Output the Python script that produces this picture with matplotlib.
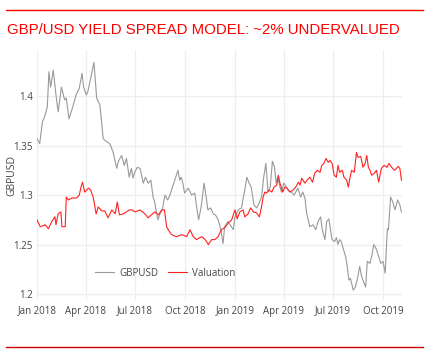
import matplotlib
matplotlib.use("Agg")
import matplotlib.pyplot as plt
from matplotlib.lines import Line2D
import pandas as pd

title = "GBP/USD YIELD SPREAD MODEL: ~2% UNDERVALUED"
start_date = "2018-01-01"

# days since start_date, GBPUSD spot
gbp_days = [0, 5, 10, 14, 19, 22, 25, 30, 35, 39, 45, 51, 54, 59, 67, 72, 78, 83, 86, 91, 94, 99,
            105, 110, 116, 122, 128, 134, 140, 147, 150, 156, 161, 165, 170, 174, 177, 180, 185, 190,
            196, 200, 205, 210, 214, 217, 220, 223, 226, 231, 236, 241, 245, 251, 255, 260, 263, 266,
            269, 272, 279, 285, 291, 294, 298, 303, 308, 312, 315, 320, 325, 329, 334, 339, 343, 346,
            352, 356, 362, 365, 371, 377, 383, 387, 391, 395, 400, 405, 408, 414, 418, 422, 426, 430,
            434, 438, 441, 444, 448, 451, 455, 460, 463, 469, 474, 477, 481, 486, 490, 494, 497, 503,
            509, 514, 518, 523, 526, 531, 534, 538, 544, 549, 552, 555, 558, 561, 564, 569, 572, 575,
            578, 583, 587, 591, 595, 598, 601, 606, 609, 614, 617, 621, 626, 630, 634, 638, 642, 646,
            648, 652, 656, 660, 665, 669, 672]
gbp_vals = [1.357, 1.352, 1.374, 1.379, 1.389, 1.4245, 1.409, 1.426, 1.401, 1.384, 1.409, 1.396, 1.398,
            1.377, 1.391, 1.401, 1.408, 1.423, 1.409, 1.401, 1.405, 1.418, 1.434, 1.398, 1.391, 1.357,
            1.354, 1.352, 1.344, 1.327, 1.334, 1.340, 1.330, 1.337, 1.318, 1.327, 1.317, 1.323, 1.328,
            1.327, 1.312, 1.318, 1.312, 1.315, 1.298, 1.293, 1.283, 1.275, 1.280, 1.285, 1.300, 1.295,
            1.300, 1.310, 1.317, 1.325, 1.315, 1.318, 1.312, 1.302, 1.307, 1.300, 1.302, 1.289, 1.275,
            1.289, 1.312, 1.298, 1.285, 1.287, 1.281, 1.280, 1.275, 1.265, 1.251, 1.268, 1.273, 1.270,
            1.265, 1.278, 1.285, 1.287, 1.305, 1.318, 1.312, 1.308, 1.290, 1.287, 1.290, 1.298, 1.318,
            1.332, 1.303, 1.308, 1.334, 1.328, 1.312, 1.318, 1.308, 1.303, 1.312, 1.308, 1.305, 1.303,
            1.300, 1.303, 1.307, 1.298, 1.303, 1.297, 1.282, 1.268, 1.270, 1.265, 1.273, 1.278, 1.265,
            1.255, 1.273, 1.276, 1.255, 1.253, 1.257, 1.250, 1.255, 1.253, 1.247, 1.238, 1.228, 1.214,
            1.216, 1.204, 1.207, 1.216, 1.228, 1.219, 1.214, 1.207, 1.233, 1.231, 1.238, 1.250, 1.245,
            1.238, 1.231, 1.233, 1.221, 1.266, 1.265, 1.298, 1.293, 1.285, 1.295, 1.290, 1.283]

# days since start_date, valuation model
val_days = [0, 6, 15, 21, 27, 33, 35, 39, 44, 46, 52, 54, 58, 64, 73, 78, 81, 84, 88, 95, 99, 104,
            109, 113, 119, 125, 131, 138, 144, 148, 152, 159, 165, 170, 175, 181, 190, 199, 205, 211,
            217, 224, 230, 235, 239, 242, 248, 257, 267, 276, 282, 288, 294, 304, 310, 316, 322, 328,
            334, 340, 346, 353, 359, 362, 365, 369, 374, 380, 383, 389, 394, 399, 405, 410, 414, 417,
            420, 423, 428, 433, 437, 442, 445, 448, 453, 457, 461, 466, 472, 477, 482, 485, 488, 494,
            498, 503, 508, 512, 517, 522, 525, 529, 533, 537, 540, 544, 548, 552, 555, 558, 563, 566,
            571, 574, 577, 580, 585, 589, 592, 597, 601, 605, 608, 611, 614, 617, 622, 626, 630, 635,
            640, 645, 649, 654, 659, 663, 666, 669, 672]
val_vals = [1.275, 1.268, 1.270, 1.266, 1.273, 1.278, 1.270, 1.281, 1.283, 1.268, 1.268, 1.298, 1.295,
            1.297, 1.297, 1.300, 1.308, 1.313, 1.303, 1.307, 1.305, 1.297, 1.281, 1.288, 1.284, 1.284,
            1.277, 1.285, 1.281, 1.293, 1.280, 1.281, 1.283, 1.285, 1.285, 1.283, 1.285, 1.281, 1.277,
            1.280, 1.283, 1.280, 1.285, 1.285, 1.268, 1.265, 1.260, 1.258, 1.260, 1.258, 1.265, 1.258,
            1.255, 1.258, 1.255, 1.250, 1.255, 1.255, 1.258, 1.265, 1.267, 1.272, 1.275, 1.280, 1.285,
            1.276, 1.283, 1.285, 1.278, 1.281, 1.287, 1.283, 1.282, 1.278, 1.288, 1.298, 1.303, 1.302,
            1.305, 1.303, 1.308, 1.310, 1.320, 1.312, 1.303, 1.308, 1.307, 1.303, 1.305, 1.308, 1.313,
            1.310, 1.317, 1.312, 1.315, 1.318, 1.313, 1.322, 1.325, 1.323, 1.330, 1.332, 1.337, 1.333,
            1.335, 1.332, 1.320, 1.318, 1.330, 1.323, 1.325, 1.318, 1.315, 1.308, 1.317, 1.325, 1.323,
            1.343, 1.338, 1.339, 1.328, 1.332, 1.340, 1.328, 1.325, 1.320, 1.322, 1.325, 1.313, 1.327,
            1.330, 1.328, 1.332, 1.328, 1.325, 1.327, 1.329, 1.327, 1.315]

xtick_dates = ["2018-01-01", "2018-04-01", "2018-07-01", "2018-10-01",
               "2019-01-01", "2019-04-01", "2019-07-01", "2019-10-01"]
xtick_labels = ["Jan 2018", "Apr 2018", "Jul 2018", "Oct 2018", "Jan 2019", "Apr 2019", "Jul 2019", "Oct 2019"]
ytick_vals = [1.2, 1.25, 1.3, 1.35, 1.4]

plt.rcParams['font.family'] = ['Open Sans', 'DejaVu Sans']

t0 = pd.Timestamp(start_date)
gbp_dates = t0 + pd.to_timedelta(gbp_days, unit="D")
val_dates = t0 + pd.to_timedelta(val_days, unit="D")

fig = plt.figure(figsize=(4.33, 3.55), dpi=100)
ax = fig.add_axes([37/433, 1-300/355, (402-37)/433, 250/355])

ax.plot(gbp_dates, gbp_vals, color="#999999", lw=0.8, label="GBPUSD", zorder=3)
ax.plot(val_dates, val_vals, color="#ff2020", lw=0.8, label="Valuation", zorder=3)

ax.set_xlim(t0, t0 + pd.Timedelta(days=673))
ax.set_ylim(1.194, 1.4465)

ax.set_xticks(pd.to_datetime(xtick_dates))
ax.set_xticklabels(xtick_labels)
ax.set_yticks(ytick_vals)
ax.set_yticklabels(["%g" % v for v in ytick_vals])
ax.tick_params(length=0, labelsize=7, colors="#444444", pad=3)
ax.tick_params(axis="x", pad=4)
for s in ax.spines.values():
    s.set_visible(False)
ax.grid(True, color="#eeeeee", lw=0.9)
ax.set_axisbelow(True)
ax.set_ylabel("GBPUSD", fontsize=7.5, color="#444444")
ax.yaxis.set_label_coords(-0.055, 0.5)

ax.legend(ncol=2, loc="lower left", bbox_to_anchor=(0.135, 0.05), frameon=False,
          fontsize=7, handlelength=2.0, columnspacing=1.0, handletextpad=0.5,
          labelcolor="#444444")

fig.text(7/433, 1-34/355, title, color="#ff0000", fontsize=10.8, family="Liberation Sans",
         va="baseline", ha="left")
fig.add_artist(Line2D([6/433, 423/433], [1-10/355, 1-10/355], color="#ff0000", lw=1))
fig.add_artist(Line2D([6/433, 423/433], [1-347/355, 1-347/355], color="#cc0000", lw=1))

fig.savefig("out.png", dpi=100)
